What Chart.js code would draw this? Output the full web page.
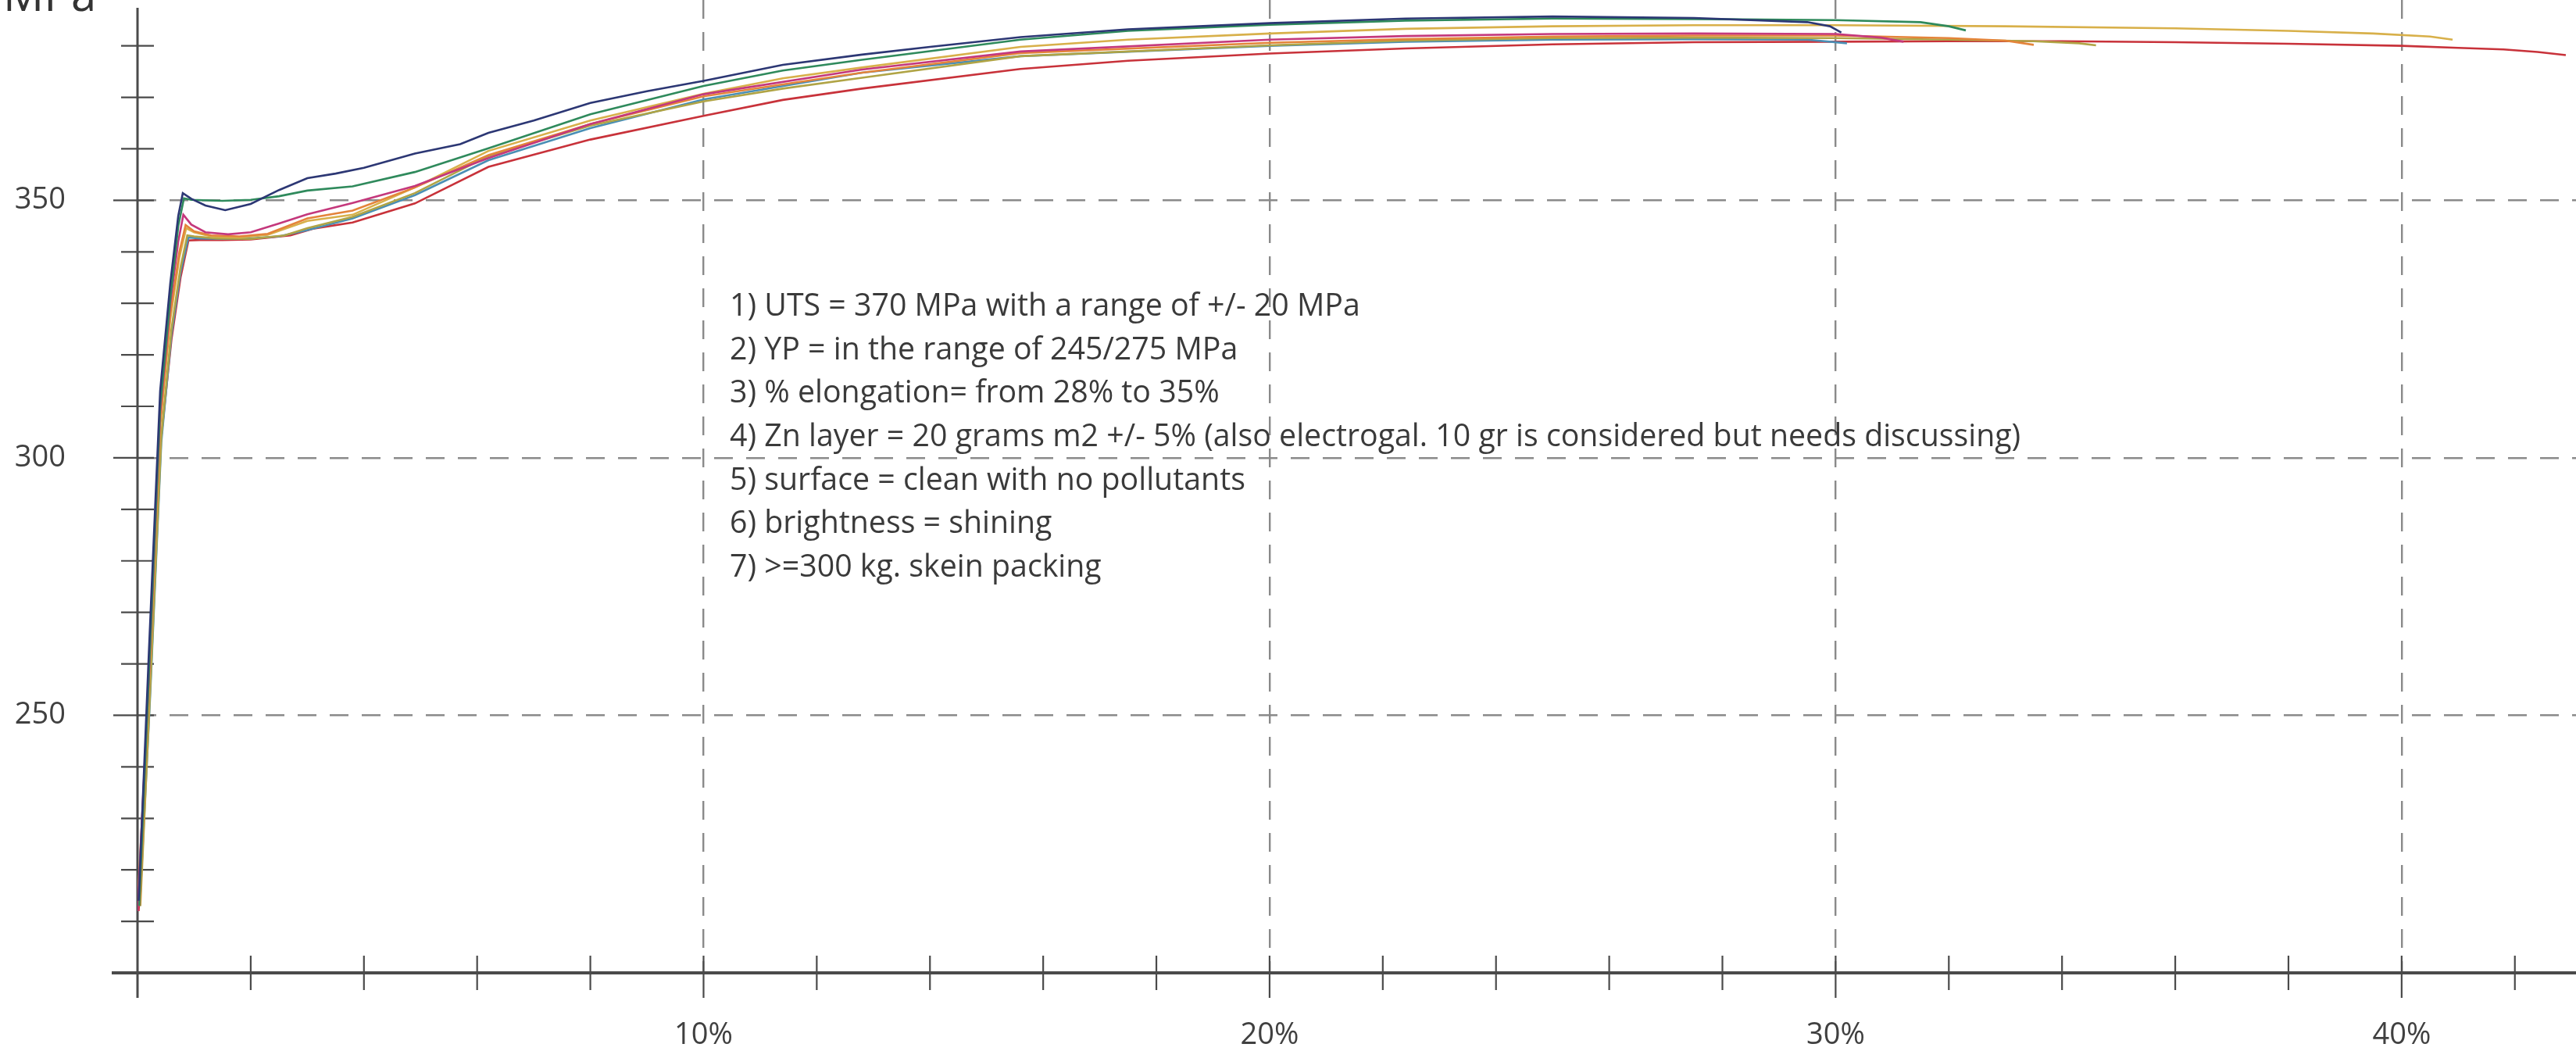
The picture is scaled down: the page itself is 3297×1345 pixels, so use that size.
<!DOCTYPE html>
<html>
<head>
<meta charset="utf-8">
<script src="https://cdn.jsdelivr.net/npm/chart.js@4/dist/chart.umd.min.js"></script>
<style>
html,body{margin:0;padding:0;background:#fff;}
canvas{display:block;}
</style>
</head>
<body>
<canvas id="c" width="3297" height="1345"></canvas>
<script>
// ---- data (strain %, stress MPa) ----
const navyX = [0.02,0.2,0.4,0.58,0.72,0.8,0.95,1.2,1.55,2.0,2.5,3.0,3.5,4.0,4.9,5.7,6.2,7.0,8.0,9.0,10.0,11.4,12.8,14.0,15.6,17.5,20.0,22.4,25.0,27.5,29.5,29.9,30.1];
const navyY = [214,262,313,334,347,351.4,350.3,349,348.1,349.3,352,354.3,355.2,356.3,359.1,360.9,363.1,365.5,368.9,371.2,373.2,376.3,378.3,379.8,381.7,383.2,384.4,385.3,385.7,385.4,384.6,383.8,382.6];
const greenX = [0.03,0.2,0.4,0.58,0.72,0.82,0.95,1.5,2.0,2.5,3.0,3.8,4.9,6.2,8.0,10.0,11.4,12.8,15.6,17.5,20.0,22.4,25.0,27.5,30.0,31.5,32.0,32.3];
const greenY = [213,258,310,331,345,350.4,350.1,349.9,350.1,350.8,351.9,352.7,355.5,360.1,366.7,372.2,375.2,377.3,381.2,382.9,384.1,384.9,385.3,385.2,385,384.6,383.8,383];
const magentaX = [0.0,0.2,0.4,0.58,0.72,0.81,0.95,1.2,1.6,2.0,2.5,3.0,3.8,4.9,6.2,8.0,10.0,12.8,15.6,20.0,22.4,25.0,27.5,30.0,30.8,31.2];
const magentaY = [212,257,309,330,342,347.2,345.3,343.8,343.4,343.8,345.5,347.3,349.5,352.8,358.2,364.8,370.6,375.4,378.9,381.2,381.9,382.3,382.4,382.3,381.6,380.8];
const orangeX = [0.04,0.2,0.4,0.58,0.74,0.85,1.0,1.3,1.8,2.3,3.0,3.8,4.9,6.2,8.0,10.0,11.4,12.8,15.6,20.0,22.4,25.0,27.5,30.0,32.0,33.0,33.5];
const orangeY = [213,256,307,328,340,345.2,344,343.2,343,343.5,346.5,348,352.5,358.8,364.8,370.2,372.5,374.8,378.6,380.6,381.3,381.8,382,382,381.5,381,380.2];
const goldX = [0.0,0.2,0.4,0.58,0.74,0.86,1.0,1.3,1.8,2.3,3.0,3.8,4.9,6.2,8.0,10.0,11.4,12.8,15.6,17.5,20.0,22.4,25.0,27.5,30.0,33.0,36.0,38.0,39.5,40.5,40.9];
const goldY = [213,255,306,327,339,344.6,343.8,343,342.8,343.3,346,347.2,352.5,359.6,365.5,370.7,373.7,375.8,379.8,381.2,382.4,383.3,383.8,384,384,383.8,383.4,382.9,382.4,381.8,381.2];
const oliveX = [0.05,0.22,0.42,0.6,0.76,0.88,1.0,1.4,2.0,2.6,3.0,3.8,4.9,6.2,8.0,10.0,11.4,12.8,15.6,20.0,22.4,25.0,27.5,30.0,32.0,33.5,34.3,34.6];
const oliveY = [213,254,304,325,337,343.2,343,342.6,342.5,343.2,344.6,346.8,351.4,358.6,364.5,369.2,371.7,373.8,378,380.1,381,381.5,381.6,381.5,381.2,380.9,380.5,380.1];
const tealX = [0.04,0.22,0.42,0.6,0.76,0.9,1.1,1.5,2.0,2.5,3.0,3.8,4.9,6.2,8.0,10.0,12.8,15.6,20.0,22.4,25.0,27.5,29.5,30.2];
const tealY = [213,253,303,324,336,342.8,342.6,342.5,342.6,343,344.2,346.5,351,357.8,364,369.6,374.8,378,380,380.8,381.2,381.3,381.2,380.5];
const redX = [0.02,0.2,0.4,0.6,0.76,0.9,1.1,1.5,2.0,2.7,3.1,3.8,4.9,6.2,8.0,10.0,11.4,12.8,15.6,17.5,20.0,22.4,25.0,27.5,30.0,32.0,34.0,36.0,38.0,40.0,41.0,41.8,42.4,42.9];
const redY = [212,252,302,323,335,342.2,342.3,342.3,342.4,343.2,344.5,345.7,349.4,356.5,361.8,366.4,369.5,371.7,375.5,377.1,378.5,379.5,380.3,380.7,380.8,380.9,380.9,380.7,380.4,380,379.6,379.3,378.8,378.2];

const seriesNames = ['navy','green','magenta','orange','gold','olive','teal','red'];
const xTickLabels = [10, 20, 30, 40];          // shown as "10%" ...
const yTickLabels = [250, 300, 350];
const yAxisTitle = 'MPa';
const notes = [
  '1) UTS = 370 MPa with a range of +/- 20 MPa',
  '2) YP = in the range of 245/275 MPa',
  '3) % elongation= from 28% to 35%',
  '4) Zn layer = 20 grams m2 +/- 5% (also electrogal. 10 gr is considered but needs discussing)',
  '5) surface = clean with no pollutants',
  '6) brightness = shining',
  '7) >=300 kg. skein packing'
];

// ---- styling ----
const FONT = '"Open Sans", "Segoe UI", sans-serif';
const colors = ['#2c3774','#2f8a5c','#c4387c','#e4843a','#d8b04a','#b0a445','#4a8fb5','#c8323a'];
const xs = [navyX, greenX, magentaX, orangeX, goldX, oliveX, tealX, redX];
const ys = [navyY, greenY, magentaY, orangeY, goldY, oliveY, tealY, redY];
const GRID = '#8a8a8a';
const AXIS = '#4a4a4a';

const datasets = seriesNames.map((n, k) => ({
  label: n,
  data: xs[k].map((x, i) => ({x: x, y: ys[k][i]})),
  showLine: true,
  borderColor: colors[k],
  backgroundColor: colors[k],
  borderWidth: 2.6,
  pointRadius: 0,
  tension: 0,
  fill: false
}));

const decor = {
  id: 'decor',
  beforeDatasetsDraw(chart) {
    const {ctx, scales: {x, y}} = chart;
    const ax = x.getPixelForValue(0);
    const ay = y.getPixelForValue(200);
    ctx.save();
    ctx.strokeStyle = AXIS;
    ctx.lineWidth = 3;
    ctx.beginPath();
    ctx.moveTo(ax, y.getPixelForValue(387.4));
    ctx.lineTo(ax, ay + 32);
    ctx.stroke();
    ctx.lineWidth = 4;
    ctx.beginPath();
    ctx.moveTo(ax - 33, ay);
    ctx.lineTo(ax, ay);
    ctx.stroke();
    ctx.lineWidth = 2.2;
    for (let v = 2; v <= 42; v += 2) {
      const px = x.getPixelForValue(v);
      const major = v % 10 === 0;
      ctx.beginPath();
      ctx.moveTo(px, ay - 22);
      ctx.lineTo(px, ay + (major ? 32 : 22));
      ctx.stroke();
    }
    for (let v = 210; v <= 380; v += 10) {
      const py = y.getPixelForValue(v);
      const major = yTickLabels.includes(v);
      ctx.beginPath();
      ctx.moveTo(ax - (major ? 31 : 21), py);
      ctx.lineTo(ax + 21, py);
      ctx.stroke();
    }
    ctx.restore();
  },
  afterDatasetsDraw(chart) {
    const {ctx} = chart;
    ctx.save();
    ctx.fillStyle = '#3a3a3a';
    ctx.font = '39.3px ' + FONT;
    ctx.textBaseline = 'middle';
    ctx.textAlign = 'left';
    notes.forEach((t, i) => ctx.fillText(t, 934, 393 + i * 55.6));
    ctx.font = '58px ' + FONT;
    ctx.textBaseline = 'alphabetic';
    ctx.fillStyle = '#333';
    ctx.fillText(yAxisTitle, 4, 14);
    ctx.restore();
  }
};

new Chart(document.getElementById('c').getContext('2d'), {
  type: 'scatter',
  data: {datasets},
  plugins: [decor],
  options: {
    responsive: false,
    animation: false,
    devicePixelRatio: 1,
    layout: {padding: 0},
    plugins: {legend: {display: false}, tooltip: {enabled: false}, title: {display: false}},
    scales: {
      x: {
        type: 'linear',
        min: 0,
        max: 43.08,
        afterFit: s => { s.height = 100; s.paddingLeft = 0; s.paddingRight = 0; },
        ticks: {
          stepSize: 2,
          autoSkip: false,
          maxRotation: 0,
          includeBounds: false,
          padding: 57,
          color: '#404040',
          font: {family: FONT, size: 38},
          callback: v => xTickLabels.includes(Math.round(v)) ? Math.round(v) + '%' : ''
        },
        grid: {
          drawTicks: false,
          lineWidth: 2.4,
          color: c => (c.tick && xTickLabels.includes(Math.round(c.tick.value))) ? GRID : 'rgba(0,0,0,0)'
        },
        border: {display: true, color: AXIS, width: 4, dash: [24, 17]}
      },
      y: {
        type: 'linear',
        min: 200,
        max: 388.9,
        afterFit: s => { s.width = 176; s.paddingTop = 0; s.paddingBottom = 0; },
        ticks: {
          stepSize: 10,
          autoSkip: false,
          includeBounds: false,
          padding: 92,
          color: '#404040',
          font: {family: FONT, size: 38},
          callback: v => yTickLabels.includes(Math.round(v)) ? String(Math.round(v)) : ''
        },
        grid: {
          drawTicks: false,
          lineWidth: 2.4,
          color: c => (c.tick && yTickLabels.includes(Math.round(c.tick.value))) ? GRID : 'rgba(0,0,0,0)'
        },
        border: {display: false, dash: [24, 17]}
      }
    }
  }
});
</script>
</body>
</html>
